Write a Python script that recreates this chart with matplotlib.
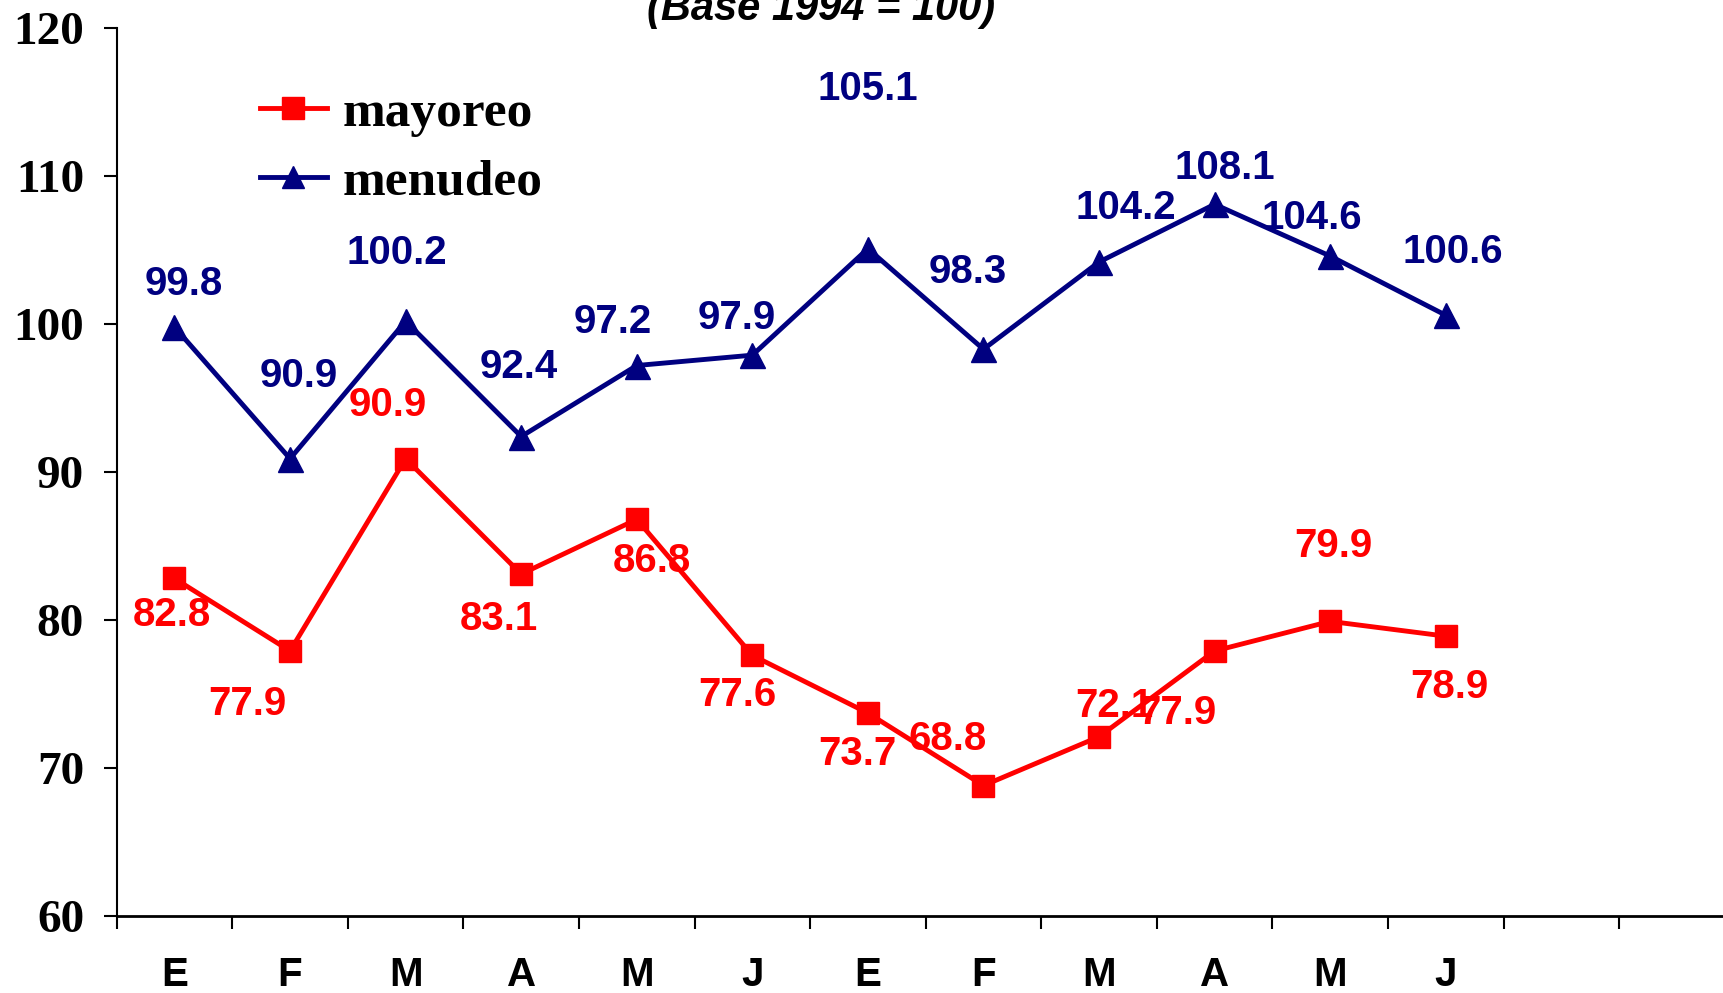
import matplotlib
matplotlib.use("Agg")
import matplotlib.pyplot as plt
from matplotlib.ticker import FixedLocator, NullFormatter, FixedFormatter

# ---- data ----
months = ["E", "F", "M", "A", "M", "J", "E", "F", "M", "A", "M", "J"]
mayoreo = [82.8, 77.9, 90.9, 83.1, 86.8, 77.6, 73.7, 68.8, 72.1, 77.9, 79.9, 78.9]
menudeo = [99.8, 90.9, 100.2, 92.4, 97.2, 97.9, 105.1, 98.3, 104.2, 108.1, 104.6, 100.6]
series_names = ["mayoreo", "menudeo"]
y_ticks = [60, 70, 80, 90, 100, 110, 120]
title = "(Base 1994 = 100)"

# label offsets (pixels, x right / y up) -- layout only
off_may = [(-2, -31), (-39, -46), (-16, 51), (-20, -39), (14, -36), (-14, -34),
           (-10, -35), (-33, 44), (14, 30), (-34, -55), (3, 70), (3, -44)]
off_men = [(8, 41), (8, 77), (-8, 64), (-2, 65), (-22, 41), (-14, 36),
           (0, 147), (-14, 72), (24, 51), (9, 35), (-17, 36), (6, 59)]

RED = "#FF0000"
NAVY = "#000080"
SERIF = "Liberation Serif"
SANS = "Liberation Sans"

W, H = 1724, 993
fig = plt.figure(figsize=(W / 100, H / 100), dpi=100)
ax = fig.add_axes([116.7 / W, 1 - 915.7 / H, 1618 / W, (915.7 - 28.3) / H])

x = list(range(len(months)))
l1, = ax.plot(x, mayoreo, color=RED, lw=3.5, marker="s", ms=16, mec=RED, mfc=RED,
              label=series_names[0], zorder=3)
l2, = ax.plot(x, menudeo, color=NAVY, lw=3.5, marker="^", ms=18, mec=NAVY, mfc=NAVY,
              label=series_names[1], zorder=3)

s = 1724 / 1568
for xi, v, (dx, dy) in zip(x, mayoreo, off_may):
    ax.annotate(f"{v:.1f}", (xi, v), xytext=(dx * s, dy * s - 2), textcoords="offset pixels",
                ha="center", va="center", fontsize=29, fontweight="bold",
                family=SANS, color=RED, zorder=4)
for xi, v, (dx, dy) in zip(x, menudeo, off_men):
    ax.annotate(f"{v:.1f}", (xi, v), xytext=(dx * s, dy * s - 2), textcoords="offset pixels",
                ha="center", va="center", fontsize=29, fontweight="bold",
                family=SANS, color=NAVY, zorder=4)

n_slots = len(months) + 2
ax.set_xlim(-0.5, n_slots - 0.5)
ax.set_ylim(y_ticks[0], y_ticks[-1])

ax.xaxis.set_major_locator(FixedLocator([k - 0.5 for k in range(n_slots + 1)]))
ax.xaxis.set_major_formatter(NullFormatter())
ax.xaxis.set_minor_locator(FixedLocator(x))
ax.xaxis.set_minor_formatter(FixedFormatter(months))
ax.tick_params(axis="x", which="major", length=9.5, width=1.5, direction="out")
ax.tick_params(axis="x", which="minor", length=0, pad=29)
for t in ax.xaxis.get_minorticklabels():
    t.set_fontsize(29)
    t.set_fontweight("bold")
    t.set_family(SANS)

ax.set_yticks(y_ticks)
ax.tick_params(axis="y", length=9.5, width=1.5, direction="out", pad=14)
for t in ax.get_yticklabels():
    t.set_fontsize(34)
    t.set_fontweight("bold")
    t.set_family(SERIF)

for sp in ["top", "right"]:
    ax.spines[sp].set_visible(False)
ax.spines["left"].set_linewidth(1.5)
ax.spines["bottom"].set_linewidth(2)

leg = ax.legend(handles=[l1, l2], loc="center left",
                bbox_to_anchor=(260 / W, 1 - 148 / H), bbox_transform=fig.transFigure,
                frameon=False, borderpad=0, borderaxespad=0, handlelength=1.3,
                handletextpad=0.3, labelspacing=0.42,
                prop={"family": SERIF, "weight": "bold", "size": 37})
for h in leg.legend_handles:
    h.set_markersize(16)

fig.text(821 / W, 1 - 20 / H, title, ha="center", va="baseline", fontsize=30,
         fontweight="bold", fontstyle="italic", family=SANS, color="black")

fig.savefig("out.png", dpi=100)
